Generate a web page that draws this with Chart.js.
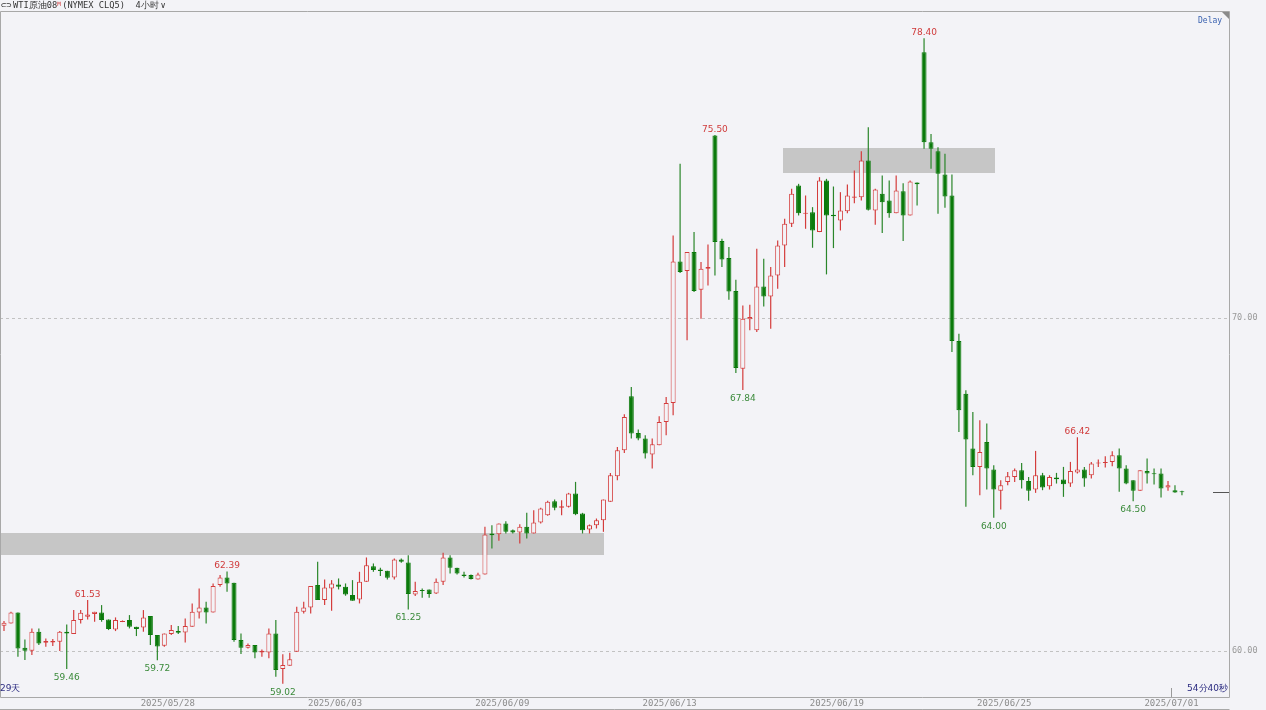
<!DOCTYPE html>
<html>
<head>
<meta charset="utf-8">
<title>WTI原油08 (NYMEX CLQ5) 4小时</title>
<script src="https://cdn.jsdelivr.net/npm/chart.js@4.4.1/dist/chart.umd.min.js"></script>
<style>
  html, body { margin: 0; padding: 0; background: #f3f3f7; }
  #wrap { width: 1266px; height: 710px; }
</style>
</head>
<body>
<div id="wrap"><canvas id="myChart" width="1266" height="710"></canvas></div>
<script>
// WTI crude 4h candles, oldest first
var openP = [60.76,60.83,61.16,60.10,60.01,60.58,60.25,60.26,60.28,60.58,
  60.51,60.93,61.03,61.11,61.16,60.95,60.65,60.87,60.93,60.73,
  60.71,61.05,60.48,60.16,60.51,60.60,60.56,60.73,61.16,61.31,
  61.16,61.98,62.21,62.05,60.33,60.10,60.18,59.96,59.96,60.53,
  59.46,59.56,59.98,61.18,61.31,61.98,61.53,61.88,62.00,61.93,
  61.68,61.55,62.08,62.55,62.45,62.41,62.21,62.75,62.66,61.70,
  61.83,61.85,61.73,62.08,62.81,62.50,62.30,62.28,62.15,62.30,
  63.53,63.51,63.83,63.63,63.56,63.73,63.53,63.86,64.08,64.50,
  64.30,64.33,64.73,64.13,63.65,63.78,63.93,64.48,65.25,66.03,
  67.65,66.55,66.38,65.90,66.18,66.88,67.45,71.70,71.41,71.98,
  70.85,71.48,75.48,72.31,71.80,70.81,68.48,69.96,69.63,70.95,
  70.65,71.28,72.18,72.83,73.98,73.13,73.18,72.58,74.13,73.10,
  72.93,73.21,73.61,73.63,74.73,73.23,73.73,73.53,73.15,73.81,
  73.08,74.07,77.98,75.28,75.01,74.31,73.68,69.31,67.73,66.08,
  65.53,66.28,65.45,64.81,65.08,65.23,65.43,65.11,64.85,65.28,
  64.95,65.21,65.15,65.03,65.36,65.45,65.28,65.63,65.65,65.68,
  65.88,65.48,65.13,64.81,65.41,65.33,65.33,64.91,64.83,64.79];
var highP = [60.90,61.18,61.16,60.35,60.68,60.68,60.38,60.36,60.60,60.80,
  61.23,61.23,61.53,61.18,61.38,60.95,61.01,60.92,61.08,60.73,
  61.23,61.05,60.48,60.53,60.78,60.75,60.98,61.43,61.88,61.48,
  62.03,62.28,62.39,62.05,60.53,60.23,60.18,60.05,60.68,60.93,
  59.90,59.95,61.33,61.48,61.95,62.68,62.15,62.13,62.18,62.03,
  62.13,62.38,62.81,62.63,62.50,62.41,62.78,62.78,62.88,62.08,
  61.88,61.85,62.18,62.95,62.88,62.50,62.38,62.30,62.35,63.73,
  63.78,63.83,63.90,63.65,63.81,64.15,64.23,64.30,64.51,64.55,
  64.53,64.75,65.08,64.15,63.80,63.98,64.55,65.35,66.13,67.11,
  67.93,66.65,66.48,66.38,67.05,67.63,72.48,74.63,71.98,72.58,
  71.68,72.21,75.50,72.38,72.13,71.15,70.38,70.40,72.08,71.78,
  71.53,72.33,72.98,73.88,74.03,73.68,73.33,74.23,74.18,73.95,
  73.78,74.01,74.43,75.01,75.73,73.88,74.28,74.13,74.28,74.05,
  74.13,74.07,78.40,75.53,75.13,74.93,74.31,69.53,67.83,67.18,
  66.93,66.83,65.58,65.13,65.38,65.48,65.65,65.23,66.01,65.35,
  65.28,65.35,65.53,65.68,66.42,65.53,65.68,65.75,65.85,66.00,
  66.08,65.58,65.13,65.43,65.78,65.48,65.48,65.11,64.98,64.81];
var lowP = [60.60,60.83,59.83,59.73,59.88,60.18,60.13,60.15,60.00,59.46,
  60.51,60.83,60.95,60.88,60.88,60.63,60.60,60.87,60.68,60.45,
  60.58,60.18,59.72,60.13,60.48,60.51,60.26,60.73,60.98,60.83,
  61.16,61.93,61.78,60.28,59.91,60.08,59.78,59.83,59.78,59.23,
  59.02,59.56,59.98,61.13,61.13,61.53,61.38,61.21,61.85,61.66,
  61.51,61.43,62.08,62.38,62.25,62.15,62.15,62.65,61.25,61.65,
  61.60,61.60,61.71,61.98,62.33,62.30,62.21,62.15,62.15,62.30,
  63.08,63.31,63.53,63.53,63.23,63.38,63.53,63.83,64.06,64.23,
  64.08,64.31,64.08,63.53,63.53,63.68,63.58,64.48,65.13,65.95,
  66.38,66.33,65.78,65.48,66.18,66.48,67.08,71.35,69.33,70.78,
  69.98,70.98,71.28,71.53,70.55,68.35,67.84,69.63,69.58,70.35,
  69.68,70.88,71.53,72.73,73.08,72.68,72.11,72.58,71.31,72.10,
  72.63,73.15,73.45,73.53,73.23,72.80,72.55,73.01,73.15,72.31,
  73.08,73.38,75.08,74.48,73.13,73.31,68.98,66.58,64.33,65.28,
  64.68,64.85,64.00,64.25,64.98,65.08,64.88,64.51,64.75,64.83,
  64.85,65.03,64.63,64.93,65.33,64.93,65.18,65.53,65.51,65.55,
  64.78,65.01,64.50,64.81,65.03,65.00,64.61,64.81,64.75,64.68];
var closeP = [60.85,61.16,60.08,60.01,60.58,60.23,60.30,60.30,60.58,60.53,
  60.93,61.15,61.10,61.18,60.93,60.66,60.93,60.90,60.73,60.66,
  61.01,60.48,60.14,60.53,60.63,60.55,60.75,61.18,61.31,61.16,
  61.95,62.21,62.03,60.33,60.10,60.18,59.96,60.01,60.53,59.43,
  59.58,59.75,61.18,61.31,61.95,61.53,61.91,62.03,61.93,61.70,
  61.51,62.08,62.58,62.43,62.40,62.20,62.75,62.68,61.71,61.80,
  61.80,61.71,62.08,62.81,62.50,62.33,62.25,62.16,62.30,63.50,
  63.48,63.83,63.58,63.56,63.73,63.53,63.86,64.28,64.48,64.30,
  64.35,64.73,64.11,63.63,63.78,63.93,64.55,65.28,66.03,67.03,
  66.53,66.38,65.93,66.21,66.88,67.45,71.70,71.38,71.98,70.81,
  71.48,71.53,72.28,71.76,70.80,68.50,69.98,70.03,70.95,70.65,
  71.28,72.18,72.83,73.73,73.15,73.16,72.63,74.13,73.08,73.06,
  73.23,73.68,73.65,74.73,73.25,73.86,73.48,73.15,73.83,73.08,
  74.10,74.02,75.28,75.08,74.33,73.65,69.31,67.23,66.35,65.53,
  65.98,65.48,64.85,64.98,65.25,65.43,65.13,64.81,65.28,64.91,
  65.23,65.16,65.01,65.41,65.45,65.18,65.63,65.65,65.68,65.88,
  65.48,65.03,64.81,65.43,65.33,65.31,64.88,64.98,64.76,64.77];

// x axis date labels (bar index where the day starts)
var dateTicks = [23.5, 47.5, 71.5, 95.5, 119.5, 143.5, 167.5];
var dateLabels = ["2025/05/28", "2025/06/03", "2025/06/09", "2025/06/13", "2025/06/19", "2025/06/25", "2025/07/01"];
var priceTicks = [60, 70];

// swing high / low markers (bar index)
var markHigh = [12, 32, 102, 132, 154];
var markLow = [9, 22, 40, 58, 106, 142, 162];

// grey zones: bar index range and price range
var zoneFrom = [-0.6, 111.8];
var zoneTo = [86.1, 142.2];
var zoneTop = [63.53, 75.10];
var zoneBottom = [62.88, 74.35];

var bgColor = "#f3f3f7";
var upColor = "#d43c3c";
var downColor = "#0b7a0b";
var downWick = "#2a862a";

var idx = openP.map(function (v, i) { return i; });
var isUp = idx.map(function (i) { return closeP[i] >= openP[i]; });

var deco = {
  id: "deco",
  beforeDraw: function (chart) {
    var ctx = chart.ctx;
    ctx.save();
    ctx.fillStyle = bgColor;
    ctx.fillRect(0, 0, chart.width, chart.height);
    ctx.restore();
  },
  beforeDatasetsDraw: function (chart) {
    var ctx = chart.ctx, a = chart.chartArea, xs = chart.scales.x, ys = chart.scales.y;
    ctx.save();
    // dashed price lines
    ctx.strokeStyle = "#c2c2c2";
    ctx.lineWidth = 1;
    ctx.setLineDash([3, 3]);
    priceTicks.forEach(function (v) {
      var y = Math.round(ys.getPixelForValue(v)) + 0.5;
      ctx.beginPath();
      ctx.moveTo(0, y);
      ctx.lineTo(a.right, y);
      ctx.stroke();
    });
    ctx.setLineDash([]);
    // zones
    ctx.fillStyle = "#c6c6c6";
    for (var k = 0; k < zoneFrom.length; k++) {
      var x1 = Math.max(0, xs.getPixelForValue(zoneFrom[k]));
      var x2 = xs.getPixelForValue(zoneTo[k]);
      var y1 = ys.getPixelForValue(zoneTop[k]);
      var y2 = ys.getPixelForValue(zoneBottom[k]);
      ctx.fillRect(Math.round(x1), Math.round(y1), Math.round(x2 - x1), Math.round(y2 - y1));
    }
    ctx.restore();
  },
  afterDatasetsDraw: function (chart) {
    var ctx = chart.ctx, xs = chart.scales.x, ys = chart.scales.y;
    ctx.save();
    ctx.font = "9px 'DejaVu Sans'";
    ctx.textAlign = "center";
    ctx.textBaseline = "middle";
    ctx.fillStyle = "#d03a3a";
    markHigh.forEach(function (i) {
      ctx.fillText(highP[i].toFixed(2), xs.getPixelForValue(i), ys.getPixelForValue(highP[i]) - 5.5);
    });
    ctx.fillStyle = "#3a8a3a";
    markLow.forEach(function (i) {
      ctx.fillText(lowP[i].toFixed(2), xs.getPixelForValue(i), ys.getPixelForValue(lowP[i]) + 8.5);
    });
    ctx.restore();
  },
  afterDraw: function (chart) {
    var ctx = chart.ctx, a = chart.chartArea, xs = chart.scales.x, ys = chart.scales.y;
    ctx.save();
    // frame
    ctx.strokeStyle = "#a8a8a8";
    ctx.lineWidth = 1;
    ctx.beginPath();
    ctx.moveTo(0.5, a.top - 0.5); ctx.lineTo(a.right + 0.5, a.top - 0.5);
    ctx.lineTo(a.right + 0.5, a.bottom + 0.5); ctx.lineTo(0.5, a.bottom + 0.5);
    ctx.lineTo(0.5, a.top - 0.5);
    ctx.moveTo(0, chart.height - 0.5); ctx.lineTo(a.right + 0.5, chart.height - 0.5);
    ctx.stroke();

    // last price marker on the axis
    var last = closeP[closeP.length - 1];
    var ly = Math.round(ys.getPixelForValue(last)) + 0.5;
    ctx.strokeStyle = "#555555";
    ctx.beginPath(); ctx.moveTo(a.right - 16, ly); ctx.lineTo(a.right, ly); ctx.stroke();

    // small time tick
    var tx = Math.round(xs.getPixelForValue(dateTicks[dateTicks.length - 1])) + 0.5;
    ctx.strokeStyle = "#9a9a9a";
    ctx.beginPath(); ctx.moveTo(tx, a.bottom - 9); ctx.lineTo(tx, a.bottom); ctx.stroke();

    // corner triangle
    ctx.fillStyle = "#8a8a8a";
    ctx.beginPath();
    ctx.moveTo(a.right - 7, a.top); ctx.lineTo(a.right, a.top); ctx.lineTo(a.right, a.top + 7);
    ctx.closePath(); ctx.fill();

    // title
    ctx.textBaseline = "middle";
    ctx.textAlign = "left";
    ctx.font = "8.7px 'DejaVu Sans Mono'";
    ctx.fillStyle = "#333333";
    var x = 1;
    ctx.fillText("⊂⊃", x, 6); x += 12;
    ctx.fillText("WTI原油08", x, 6); x += ctx.measureText("WTI原油08").width;
    ctx.fillStyle = "#d03a3a";
    ctx.font = "6px 'DejaVu Sans Mono'";
    ctx.fillText("M", x, 4); x += 5;
    ctx.font = "8.7px 'DejaVu Sans Mono'";
    ctx.fillStyle = "#333333";
    ctx.fillText("(NYMEX CLQ5)  4小时", x, 6); x += ctx.measureText("(NYMEX CLQ5)  4小时").width + 2;
    ctx.fillText("∨", x, 6);

    ctx.font = "8px 'DejaVu Sans Mono'";
    ctx.fillStyle = "#3a62b0";
    ctx.fillText("Delay", a.right - 31, a.top + 9);

    // countdown texts
    ctx.font = "9px 'DejaVu Sans'";
    ctx.fillStyle = "#2b2b80";
    ctx.fillText("29天", 0, a.bottom - 8);
    ctx.textAlign = "right";
    ctx.fillText("54分40秒", a.right - 1, a.bottom - 8);
    ctx.restore();
  }
};

new Chart("myChart", {
  type: "bar",
  data: {
    datasets: [{
      label: "wick",
      data: idx.map(function (i) { return { x: i, y: [lowP[i], highP[i]] }; }),
      backgroundColor: idx.map(function (i) { return isUp[i] ? upColor : downWick; }),
      grouped: false,
      maxBarThickness: 1.2,
      order: 2
    }, {
      label: "body",
      data: idx.map(function (i) {
        return { x: i, y: [Math.min(openP[i], closeP[i]), Math.max(openP[i], closeP[i])] };
      }),
      backgroundColor: idx.map(function (i) { return isUp[i] ? bgColor : downColor; }),
      borderColor: idx.map(function (i) { return isUp[i] ? upColor : downColor; }),
      borderWidth: 1,
      borderSkipped: false,
      minBarLength: 1,
      grouped: false,
      maxBarThickness: 5,
      order: 1
    }]
  },
  options: {
    responsive: false,
    animation: false,
    devicePixelRatio: 1,
    layout: { padding: { top: 12, left: 1, right: 0, bottom: 0 } },
    plugins: { legend: { display: false }, tooltip: { enabled: false } },
    scales: {
      x: {
        type: "linear",
        min: -0.43,
        max: 175.75,
        offset: false,
        grid: { display: false, drawTicks: false },
        border: { display: false },
        afterBuildTicks: function (s) { s.ticks = dateTicks.map(function (v) { return { value: v }; }); },
        afterFit: function (s) { s.height = 13; },
        ticks: {
          autoSkip: false, maxRotation: 0, padding: 1,
          color: "#8c8c8c",
          font: { family: "'DejaVu Sans Mono'", size: 9 },
          callback: function (v, k) { return dateLabels[k]; }
        }
      },
      y: {
        position: "right",
        min: 58.62,
        max: 79.19,
        grid: { display: false, drawTicks: false },
        border: { display: false },
        afterBuildTicks: function (s) { s.ticks = priceTicks.map(function (v) { return { value: v }; }); },
        afterFit: function (s) { s.width = 37; },
        ticks: {
          padding: 3,
          color: "#999999",
          font: { family: "'DejaVu Sans Mono'", size: 8.5 },
          callback: function (v) { return v.toFixed(2); }
        }
      }
    }
  },
  plugins: [deco]
});
</script>
</body>
</html>
